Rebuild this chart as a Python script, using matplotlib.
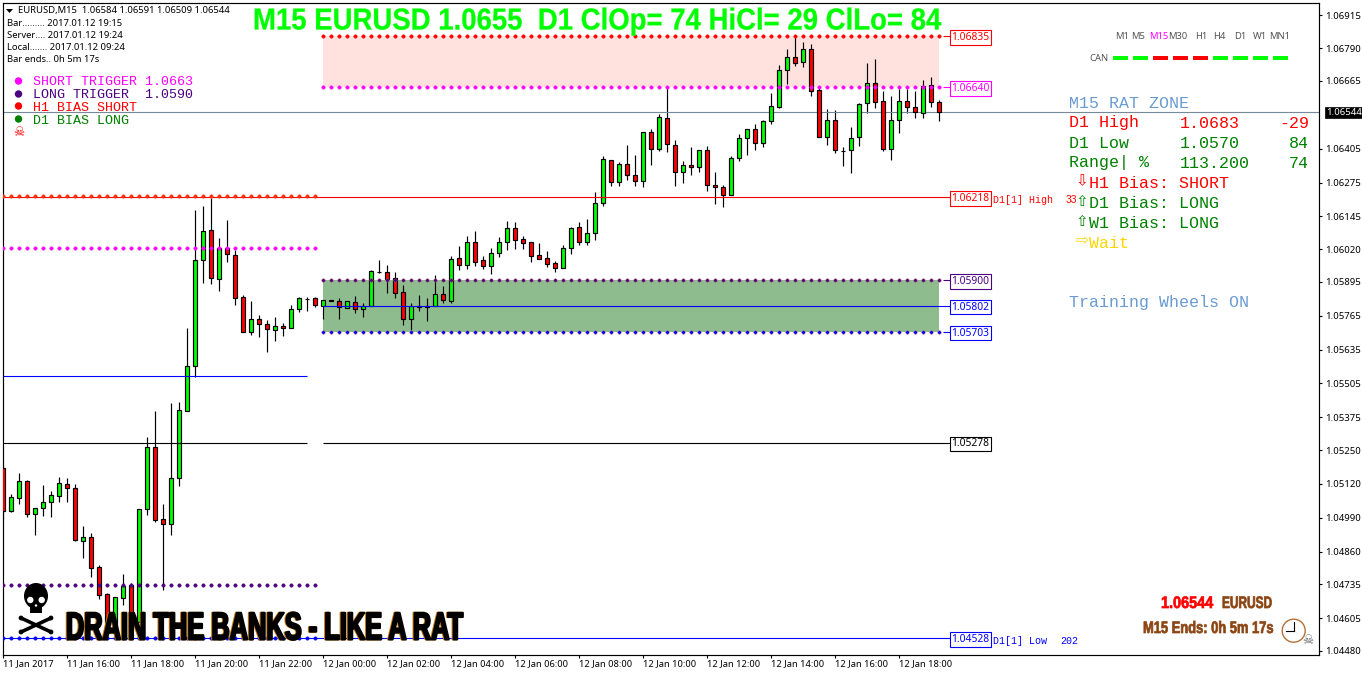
#!/usr/bin/env python3
"""EURUSD M15 candles with rat zones, redrawn from an MT4 screenshot."""

import matplotlib
matplotlib.use("Agg")

import matplotlib.pyplot as plt
import matplotlib.patches as mpatches
import matplotlib.patheffects as pe
from matplotlib.colors import to_rgba
from matplotlib.transforms import Affine2D

W, H = 1362, 675

OPENS = [
    1.05180, 1.05018, 1.05068, 1.05130, 1.05006, 1.05027, 1.05052, 1.05075, 1.05119, 1.05103,
    1.04903, 1.04916, 1.04801, 1.04697, 1.04552, 1.04682, 1.04732, 1.04592, 1.05023, 1.05260,
    1.04984, 1.04965, 1.05142, 1.05401, 1.05573, 1.05980, 1.06092, 1.05907, 1.06023, 1.05996,
    1.05835, 1.05704, 1.05751, 1.05732, 1.05711, 1.05724, 1.05716, 1.05789, 1.05830, 1.05831,
    1.05801, 1.05823, 1.05820, 1.05793, 1.05816, 1.05789, 1.05801, 1.05933, 1.05931, 1.05908,
    1.05854, 1.05753, 1.05803, 1.05803, 1.05803, 1.05847, 1.05822, 1.05985, 1.05960, 1.06046,
    1.05977, 1.05956, 1.06004, 1.06046, 1.06100, 1.06057, 1.06046, 1.05996, 1.05985, 1.05965,
    1.05949, 1.06023, 1.06103, 1.06046, 1.06080, 1.06195, 1.06360, 1.06276, 1.06345, 1.06303,
    1.06282, 1.06467, 1.06402, 1.06521, 1.06418, 1.06314, 1.06341, 1.06333, 1.06398, 1.06264,
    1.06257, 1.06226, 1.06368, 1.06444, 1.06479, 1.06425, 1.06510, 1.06566, 1.06705, 1.06755,
    1.06736, 1.06785, 1.06628, 1.06448, 1.06513, 1.06397, 1.06398, 1.06448, 1.06579, 1.06655,
    1.06586, 1.06402, 1.06513, 1.06586, 1.06563, 1.06540, 1.06647, 1.06584,
]
HIGHS = [
    1.05197, 1.05082, 1.05163, 1.05135, 1.05027, 1.05116, 1.05093, 1.05145, 1.05143, 1.05120,
    1.04959, 1.04932, 1.04810, 1.04701, 1.04686, 1.04775, 1.04739, 1.05023, 1.05300, 1.05400,
    1.05043, 1.05429, 1.05435, 1.05716, 1.06170, 1.06185, 1.06215, 1.06061, 1.06131, 1.06017,
    1.05844, 1.05821, 1.05767, 1.05748, 1.05760, 1.05736, 1.05806, 1.05836, 1.05835, 1.05836,
    1.05824, 1.05824, 1.05831, 1.05820, 1.05840, 1.05812, 1.05940, 1.05978, 1.05959, 1.05932,
    1.05882, 1.05812, 1.05844, 1.05833, 1.05921, 1.05880, 1.05994, 1.06032, 1.06070, 1.06089,
    1.05994, 1.06024, 1.06066, 1.06128, 1.06125, 1.06070, 1.06046, 1.06043, 1.06013, 1.05973,
    1.06036, 1.06105, 1.06124, 1.06135, 1.06238, 1.06377, 1.06360, 1.06352, 1.06418, 1.06381,
    1.06467, 1.06480, 1.06538, 1.06636, 1.06437, 1.06356, 1.06411, 1.06398, 1.06414, 1.06314,
    1.06266, 1.06375, 1.06460, 1.06479, 1.06498, 1.06515, 1.06617, 1.06725, 1.06787, 1.06834,
    1.06812, 1.06806, 1.06646, 1.06557, 1.06553, 1.06411, 1.06488, 1.06578, 1.06733, 1.06748,
    1.06626, 1.06607, 1.06632, 1.06632, 1.06626, 1.06667, 1.06678, 1.06591,
]
LOWS = [
    1.04984, 1.05014, 1.05043, 1.04995, 1.04924, 1.04997, 1.04993, 1.05052, 1.05051, 1.04903,
    1.04836, 1.04762, 1.04679, 1.04541, 1.04548, 1.04656, 1.04586, 1.04592, 1.05001, 1.04976,
    1.04714, 1.04924, 1.05112, 1.05401, 1.05531, 1.05891, 1.05886, 1.05859, 1.05971, 1.05806,
    1.05704, 1.05691, 1.05684, 1.05626, 1.05668, 1.05687, 1.05716, 1.05779, 1.05783, 1.05799,
    1.05751, 1.05820, 1.05752, 1.05793, 1.05776, 1.05760, 1.05801, 1.05927, 1.05852, 1.05833,
    1.05729, 1.05710, 1.05783, 1.05744, 1.05803, 1.05815, 1.05815, 1.05940, 1.05945, 1.05955,
    1.05945, 1.05925, 1.05991, 1.06016, 1.06020, 1.06022, 1.05972, 1.05983, 1.05951, 1.05932,
    1.05949, 1.06001, 1.06036, 1.06036, 1.06055, 1.06185, 1.06263, 1.06263, 1.06285, 1.06263,
    1.06259, 1.06342, 1.06397, 1.06392, 1.06263, 1.06273, 1.06304, 1.06315, 1.06243, 1.06193,
    1.06183, 1.06226, 1.06359, 1.06381, 1.06400, 1.06411, 1.06499, 1.06559, 1.06653, 1.06723,
    1.06719, 1.06608, 1.06448, 1.06419, 1.06390, 1.06338, 1.06312, 1.06415, 1.06541, 1.06561,
    1.06397, 1.06361, 1.06465, 1.06541, 1.06522, 1.06522, 1.06565, 1.06509,
]
CLOSES = [
    1.05018, 1.05069, 1.05130, 1.05006, 1.05027, 1.05050, 1.05076, 1.05122, 1.05103, 1.04907,
    1.04916, 1.04797, 1.04696, 1.04548, 1.04686, 1.04728, 1.04590, 1.05023, 1.05260, 1.04981,
    1.04965, 1.05142, 1.05402, 1.05571, 1.05977, 1.06088, 1.05911, 1.06023, 1.06000, 1.05834,
    1.05704, 1.05751, 1.05732, 1.05713, 1.05724, 1.05716, 1.05789, 1.05831, 1.05827, 1.05804,
    1.05824, 1.05822, 1.05797, 1.05820, 1.05789, 1.05801, 1.05935, 1.05931, 1.05905, 1.05853,
    1.05753, 1.05803, 1.05798, 1.05798, 1.05847, 1.05826, 1.05981, 1.05960, 1.06046, 1.05972,
    1.05956, 1.06004, 1.06046, 1.06100, 1.06056, 1.06044, 1.05995, 1.05983, 1.05964, 1.05949,
    1.06023, 1.06100, 1.06046, 1.06080, 1.06195, 1.06364, 1.06278, 1.06345, 1.06303, 1.06282,
    1.06467, 1.06402, 1.06525, 1.06421, 1.06314, 1.06341, 1.06333, 1.06398, 1.06264, 1.06257,
    1.06226, 1.06368, 1.06444, 1.06479, 1.06425, 1.06510, 1.06567, 1.06705, 1.06755, 1.06732,
    1.06785, 1.06627, 1.06448, 1.06513, 1.06398, 1.06395, 1.06444, 1.06575, 1.06655, 1.06582,
    1.06402, 1.06513, 1.06586, 1.06563, 1.06544, 1.06644, 1.06582, 1.06544,
]

PRICE_TICKS = [1.06915, 1.06790, 1.06665, 1.06405, 1.06275, 1.06145, 1.06020, 1.05895, 1.05765, 1.05635,
               1.05505, 1.05375, 1.05250, 1.05120, 1.04990, 1.04860, 1.04735, 1.04605, 1.04480]
TIME_LABELS = ["11 Jan 2017", "11 Jan 16:00", "11 Jan 18:00", "11 Jan 20:00", "11 Jan 22:00",
               "12 Jan 00:00", "12 Jan 02:00", "12 Jan 04:00", "12 Jan 06:00", "12 Jan 08:00",
               "12 Jan 10:00", "12 Jan 12:00", "12 Jan 14:00", "12 Jan 16:00", "12 Jan 18:00"]

LAST_PRICE = 1.06544
BOXED_LEVELS = [1.06835, 1.06640, 1.06218, 1.05900, 1.05802, 1.05703, 1.05278, 1.04528]
BOX_COLORS = ["red", "magenta", "red", "indigo", "blue", "blue", "black", "blue"]

TIMEFRAMES = ["M1", "M5", "M15", "M30", "H1", "H4", "D1", "W1", "MN1"]
CAN_COLORS = ["lime", "lime", "red", "red", "red", "lime", "lime", "lime", "lime"]

TAHOMA = "Noto Sans"
MONO = "Liberation Mono"
HEAVY = "Liberation Sans"


class Squeeze(pe.AbstractPathEffect):
    """Narrow a text horizontally around x0, fattened with a stroke."""

    def __init__(self, sx, x0, stroke=0.0, dx=0.0, color=None):
        super().__init__()
        self.sx, self.x0, self.stroke, self.dx, self.color = sx, x0, stroke, dx, color

    def draw_path(self, renderer, gc, tpath, affine, rgbFace=None):
        move = Affine2D().translate(-self.x0, 0).scale(self.sx, 1).translate(self.x0 + self.dx, 0)
        gc0 = renderer.new_gc()
        gc0.copy_properties(gc)
        face = to_rgba(self.color) if self.color else rgbFace
        gc0.set_foreground(face)
        gc0.set_linewidth(self.stroke)
        renderer.draw_path(gc0, tpath, affine + move, face)
        gc0.restore()


fig = plt.figure(figsize=(W / 100, H / 100), dpi=100, facecolor="white")

# main chart, frame pixels left=3 right=1319 top=2.5 bottom=654.5
ax = fig.add_axes([3 / W, (H - 654.5) / H, 1316 / W, 652 / H])
bars = list(range(len(OPENS)))
ax.set_xlim((3 - 3.3) / 8, (1319 - 3.3) / 8)
ax.set_ylim(1.044665, 1.069648)

LINE_END = 118.35
LEFT = 0
FIRST_HALF = 39
ZONE_START = 40
ZONE_END = 117

ax.add_patch(mpatches.Rectangle((ZONE_START, 1.06640), ZONE_END - ZONE_START, 0.00195, fc="#FFE2DE", ec="none", zorder=1))
ax.add_patch(mpatches.Rectangle((ZONE_START, 1.05703), ZONE_END - ZONE_START, 0.00197, fc="#8FBC8F", ec="none", zorder=1))

# candles
colors = ["#00FF00" if c >= o else "#FF0000" for o, c in zip(OPENS, CLOSES)]
ax.vlines(bars, LOWS, HIGHS, color="black", lw=0.85, zorder=2)
ax.bar(bars, [abs(c - o) for o, c in zip(OPENS, CLOSES)], bottom=[min(o, c) for o, c in zip(OPENS, CLOSES)],
       width=0.5, color=colors, edgecolor="black", linewidth=0.85, zorder=3)

# level lines
ax.hlines(LAST_PRICE, -1, 200, color="#778899", lw=0.8, zorder=2.5)
ax.hlines(1.06218, LEFT, LINE_END, color="red", lw=0.8, zorder=4)
ax.hlines(1.05533, LEFT, 38, color="blue", lw=0.8, zorder=4)
ax.hlines(1.05278, LEFT, 38, color="black", lw=0.8, zorder=4)
ax.hlines(1.05278, ZONE_START, LINE_END, color="black", lw=0.8, zorder=4)
ax.hlines(1.05802, ZONE_START, LINE_END, color="blue", lw=0.8, zorder=4)
ax.hlines(1.04528, LEFT, LINE_END, color="blue", lw=0.8, zorder=4)
for level, col in [(1.06835, "red"), (1.06640, "magenta"), (1.05900, "indigo"), (1.05703, "blue")]:
    ax.hlines(level, 117.5, LINE_END, color=col, lw=0.8, zorder=4)


def dots(level, first, last, color, edge=None):
    xs = list(range(first, last + 1))
    ax.plot(xs, [level] * len(xs), ls="none", marker="o", ms=2.5, mfc=color,
            mec=edge or color, mew=0.3, zorder=5, clip_on=True)


dots(1.06225, LEFT, FIRST_HALF, "#FF3000")
dots(1.06023, LEFT, FIRST_HALF, "magenta")
dots(1.04732, LEFT, FIRST_HALF, "indigo")
dots(1.04531, LEFT, FIRST_HALF, "blue")
dots(1.06835, ZONE_START, ZONE_END, "red")
dots(1.06640, ZONE_START, ZONE_END, "magenta")
dots(1.05900, ZONE_START, ZONE_END, "indigo", "#C06080")
dots(1.05703, ZONE_START, ZONE_END, "blue", "#C06080")

# boxed prices on the right of the zones
for level, col in zip(BOXED_LEVELS, BOX_COLORS):
    ax.annotate(f"{level:.5f}", xy=(120.9, level), xytext=(0, -0.9), textcoords="offset points",
                color=col, fontsize=7.4, family=TAHOMA, ha="center", va="center",
                bbox=dict(boxstyle="square,pad=0.17", fc="white", ec=col, lw=0.8), zorder=6)

# axes
ax.yaxis.tick_right()
ax.set_yticks(PRICE_TICKS)
ax.set_yticklabels([f"{p:.5f}" for p in PRICE_TICKS], fontsize=6.9, family=TAHOMA)
ax.set_xticks(bars[::8])
ax.set_xticklabels(TIME_LABELS, fontsize=6.7, family=TAHOMA, ha="left")
ax.tick_params(axis="y", length=2.4, width=0.8, pad=1.8)
ax.tick_params(axis="x", length=2.4, width=0.8, pad=1.2)
for spine in ax.spines.values():
    spine.set_linewidth(0.85)
ax.annotate(f"{LAST_PRICE:.5f}", xy=(1.0, LAST_PRICE), xycoords=ax.get_yaxis_transform(),
            xytext=(5, 0), textcoords="offset points", color="white", fontsize=6.9,
            family=TAHOMA, ha="left", va="center", zorder=7, annotation_clip=False,
            bbox=dict(boxstyle="square,pad=0.1", fc="black", ec="black", lw=0.5))

# everything else is placed in screen pixels
top = fig.add_axes([0, 0, 1, 1], zorder=5)
top.set_xlim(0, W)
top.set_ylim(H, 0)
top.axis("off")


def label(x, y, s, color="black", size=6.8, family=TAHOMA, ha="left", **kw):
    return top.text(x, y, s, color=color, fontsize=size, family=family, ha=ha, va="center", **kw)


def fitted(x, y, s, width, size, color, stroke=0.0, shadow=None):
    # condensed heavy text: squeeze the glyphs until the string spans `width` pixels
    t = label(x, y, s, color=color, size=size, family=HEAVY, weight="bold")
    have = t.get_window_extent(fig.canvas.get_renderer()).width
    sx = width / have
    effects = []
    if shadow:
        effects.append(Squeeze(sx, x, stroke, dx=-1.0, color=shadow))
    effects.append(Squeeze(sx, x, stroke))
    t.set_path_effects(effects)
    return t


# header block
top.add_patch(mpatches.Polygon([(6, 9), (13, 9), (9.5, 13)], fc="black", ec="none"))
label(18, 10.5, "EURUSD,M15  1.06584 1.06591 1.06509 1.06544")
label(7, 23.5, "Bar......... 2017.01.12 19:15")
label(7, 35.5, "Server.... 2017.01.12 19:24")
label(7, 47.5, "Local....... 2017.01.12 09:24")
label(7, 59.5, "Bar ends.. 0h 5m 17s")

fitted(253, 21.5, "M15 EURUSD 1.0655  D1 ClOp= 74 HiCl= 29 ClLo= 84", 687, 21.8, "#00FF00", stroke=0.2)

# legend block
for y, txt, col in [(82, "SHORT TRIGGER 1.0663", "magenta"), (95, "LONG TRIGGER  1.0590", "indigo"),
                    (108, "H1 BIAS SHORT", "red"), (121, "D1 BIAS LONG", "green")]:
    label(33, y, txt, color=col, size=9.6, family=MONO)
for y, col in [(81, "magenta"), (94, "indigo"), (106, "red"), (119, "green")]:
    top.add_patch(mpatches.Circle((18.5, y), 3.7, fc=col, ec="none"))
label(18.5, 132, "\u2620", color="red", size=9, family="DejaVu Sans", ha="center")

# right panel
STEEL = "#6A9BD1"
DKGREEN = "#008000"
label(1069, 103, "M15 RAT ZONE", color=STEEL, size=12, family=MONO)
for y, a, b, c, col in [(123, "D1 High", "1.0683", "-29", "red"), (143, "D1 Low", "1.0570", "84", DKGREEN),
                        (163, "Range| %", "113.200", "74", DKGREEN)]:
    label(1069, y, a, color=col, size=12, family=MONO)
    label(1180, y, b, color=col, size=12, family=MONO)
    label(1309, y, c, color=col, size=12, family=MONO, ha="right")
for y, arrow, txt, col in [(183, "\u21e9", "H1 Bias: SHORT", "red"), (203, "\u21e7", "D1 Bias: LONG", DKGREEN),
                           (223, "\u21e7", "W1 Bias: LONG", DKGREEN), (243, "\u21e8", "Wait", "#FFD700")]:
    label(1082, y - 2, arrow, color=col, size=11, family="DejaVu Sans", ha="center")
    label(1089, y, txt, color=col, size=12, family=MONO)
label(1069, 303, "Training Wheels ON", color=STEEL, size=12, family=MONO)

label(993, 200, "D1[1] High", color="red", size=7.2, family=MONO)
label(1066, 200, "33", color="red", size=7.4, family="Liberation Sans")
label(993, 641, "D1[1] Low", color="blue", size=7.2, family=MONO)
label(1060, 641, "202", color="blue", size=7.2, family=MONO)

# timeframe row
for name, cx in zip(TIMEFRAMES, [1122, 1138, 1159, 1178, 1201, 1219, 1240, 1260, 1280]):
    label(cx, 36.5, name, color="magenta" if name == "M15" else "#555555", ha="center")
label(1099, 58.5, "CAN", color="#555555", ha="center")
for i, col in enumerate(CAN_COLORS):
    top.add_patch(mpatches.Rectangle((1112.7 + 20 * i, 56), 15, 4, fc=col, ec="none"))

# big skull and crossbones
top.add_patch(mpatches.Ellipse((36, 596), 24, 26, fc="black", ec="none"))
top.add_patch(mpatches.Rectangle((30, 604), 12, 9, fc="black", ec="none"))
for cx in (30.3, 41.7):
    top.add_patch(mpatches.Circle((cx, 600), 3.2, fc="white", ec="none"))
top.add_patch(mpatches.Circle((36, 605.5), 1.2, fc="white", ec="none"))
for x0, y0, x1, y1 in [(21, 618, 51, 632), (21, 632, 51, 618)]:
    top.plot([x0, x1], [y0, y1], color="black", lw=2.6, solid_capstyle="round")
    for bx, by in [(x0, y0), (x1, y1)]:
        top.add_patch(mpatches.Circle((bx, by), 2.4, fc="black", ec="none"))

# bottom banner and clock
fitted(66, 629.5, "DRAIN THE BANKS - LIKE A RAT", 397, 28, "black", stroke=1.4, shadow="#C87800")
fitted(1161, 603.5, "1.06544", 52, 12, "red", stroke=0.5)
fitted(1222, 603.5, "EURUSD", 50, 12, "#8B4513", stroke=0.5)
fitted(1143, 628.5, "M15 Ends: 0h 5m 17s", 130, 12, "#8B4513", stroke=0.5)

top.add_patch(mpatches.Circle((1293.7, 630.7), 11.5, fc="white", ec="#B5703A", lw=1.0))
top.plot([1293.7, 1293.7], [630.7, 622], color="black", lw=0.8)
top.plot([1286, 1293.7], [630.7, 630.7], color="black", lw=0.8)
label(1308, 640, "\u2620", color="#666666", size=9, family="DejaVu Sans", ha="center")

fig.savefig("out.png", dpi=100, facecolor="white")
